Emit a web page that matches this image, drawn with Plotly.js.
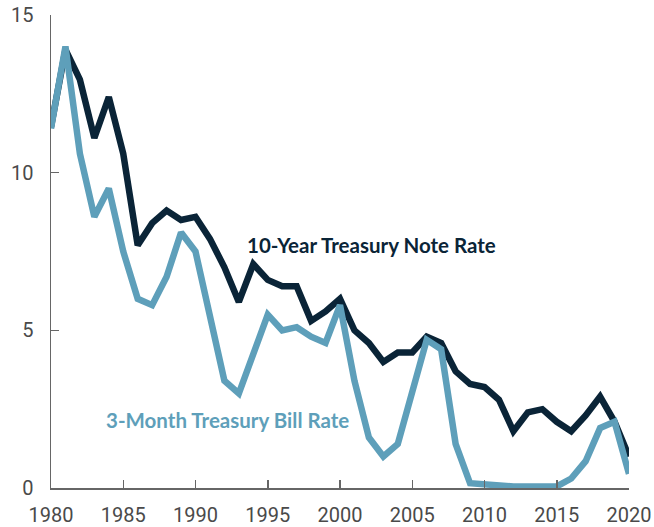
<!DOCTYPE html>
<html>
<head>
<meta charset="utf-8">
<script src="https://cdn.plot.ly/plotly-3.0.1.min.js"></script>
<style>html,body{margin:0;padding:0;background:#fff;}#chart{width:654px;height:527px;}</style>
</head>
<body>
<div id="chart"></div>
<script>
const years = [];
for (let y = 1980; y <= 2020; y++) years.push(y);

const tenYear = [11.45, 13.9, 12.95, 11.1, 12.4, 10.6, 7.7, 8.4, 8.8, 8.5, 8.6, 7.9, 7.0, 5.9, 7.1,
  6.6, 6.4, 6.4, 5.3, 5.6, 6.0, 5.0, 4.6, 4.0, 4.3, 4.3, 4.8, 4.6, 3.7, 3.3,
  3.2, 2.8, 1.8, 2.4, 2.5, 2.1, 1.8, 2.3, 2.9, 2.1, 1.0];

const threeMonth = [11.4, 14.0, 10.6, 8.6, 9.5, 7.5, 6.0, 5.8, 6.7, 8.1, 7.5, 5.4, 3.4, 3.0, 4.3,
  5.5, 5.0, 5.1, 4.8, 4.6, 5.8, 3.4, 1.6, 1.0, 1.4, 3.1, 4.7, 4.4, 1.4, 0.15,
  0.1, 0.05, 0.05, 0.05, 0.03, 0.05, 0.3, 0.85, 1.9, 2.1, 0.45];

const xTicks = [1980, 1985, 1990, 1995, 2000, 2005, 2010, 2015, 2020];
const yTicks = [0, 5, 10, 15];

const navy = '#0a2437';
const lightBlue = '#5e9fba';

const traces = [
  {x: years, y: tenYear, type: 'scatter', mode: 'lines', cliponaxis: false,
   line: {color: navy, width: 6.5, shape: 'linear'}, hoverinfo: 'skip'},
  {x: years, y: threeMonth, type: 'scatter', mode: 'lines', cliponaxis: false,
   line: {color: lightBlue, width: 6.5, shape: 'linear'}, hoverinfo: 'skip'}
];

const axisColor = '#666666';
const tickFont = {family: 'Roboto, "Liberation Sans", sans-serif', size: 20, color: '#4a4a4a'};

const layout = {
  width: 654, height: 527,
  margin: {l: 51, r: 25, t: 15, b: 39},
  paper_bgcolor: '#ffffff', plot_bgcolor: '#ffffff',
  showlegend: false,
  xaxis: {
    range: [1980, 2020], tickvals: xTicks, ticktext: xTicks.map(String),
    showgrid: false, zeroline: false, showline: true, linecolor: axisColor, linewidth: 1.5,
    ticks: 'inside', ticklen: 8, tickwidth: 1.5, tickcolor: axisColor,
    tickfont: tickFont, ticklabelstandoff: 8, fixedrange: true
  },
  yaxis: {
    range: [0, 15], tickvals: yTicks, ticktext: yTicks.map(String),
    showgrid: false, zeroline: false, showline: true, linecolor: axisColor, linewidth: 1.5,
    ticks: 'inside', ticklen: 8, tickwidth: 1.5, tickcolor: axisColor,
    tickfont: tickFont, ticklabelstandoff: 12, fixedrange: true
  },
  annotations: [
    {x: 2002.2, y: 7.72, xref: 'x', yref: 'y', text: '10-Year Treasury Note Rate', showarrow: false,
     font: {family: 'Lato, "Open Sans", sans-serif', size: 20.5, color: navy, weight: 700}},
    {x: 1992.2, y: 2.15, xref: 'x', yref: 'y', text: '3-Month Treasury Bill Rate', showarrow: false,
     font: {family: 'Lato, "Open Sans", sans-serif', size: 20.5, color: lightBlue, weight: 700}}
  ]
};

Plotly.newPlot('chart', traces, layout, {staticPlot: true, displayModeBar: false});
</script>
</body>
</html>
